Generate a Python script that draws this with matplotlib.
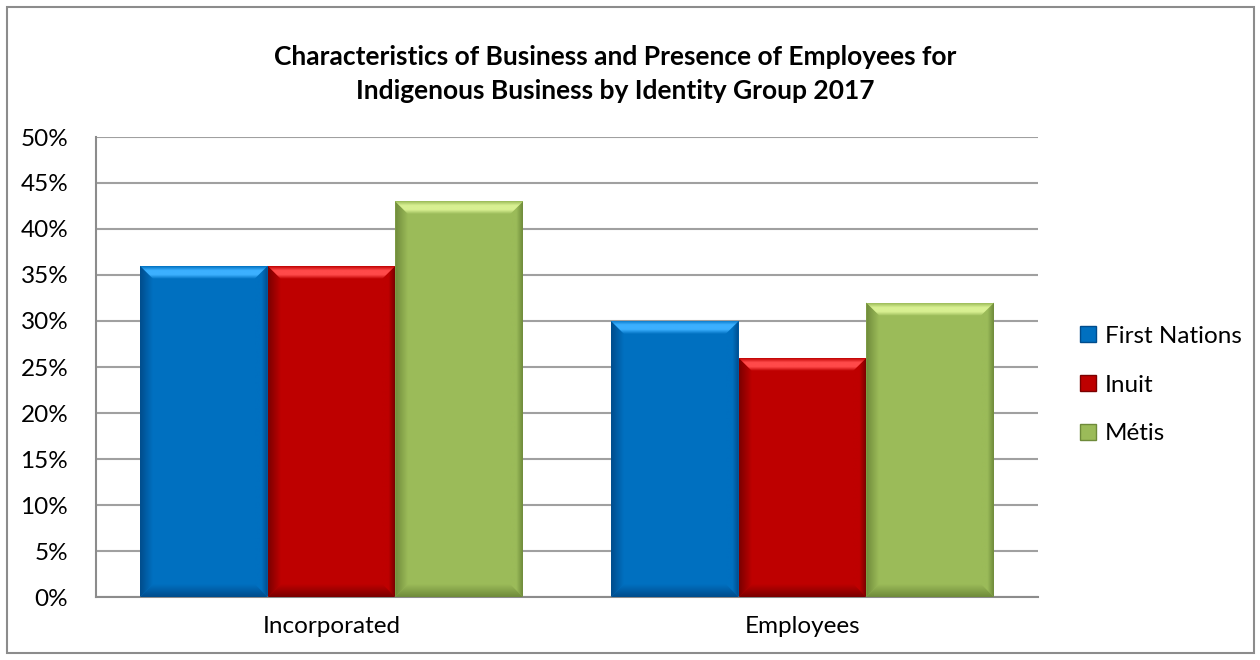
import matplotlib
matplotlib.use("Agg")
import matplotlib.pyplot as plt
import numpy as np
from matplotlib.patches import Polygon, Rectangle
from matplotlib.lines import Line2D
from matplotlib.ticker import MultipleLocator, FuncFormatter

# data
categories = ["Incorporated", "Employees"]
groups = ["First Nations", "Inuit", "Métis"]
first_nations = [36, 30]
inuit = [36, 26]
metis = [43, 32]

# colours: base, dark edge, highlight
base_cols = ["#0070C0", "#BE0000", "#9BBB59"]
dark_cols = ["#004C8C", "#7A0000", "#6E8A3A"]
light_cols = ["#3CB0FF", "#FF4A4A", "#D8F092"]

plt.rcParams["font.family"] = ["Lato", "DejaVu Sans"]

fig = plt.figure(figsize=(12.6, 6.6), dpi=100)
ax = fig.add_axes([96/1260, 1-597/660, 942/1260, 460/660])

# outer chart border
fig.patches.append(Rectangle((7/1260, 7/660), 1247/1260, 646/660, transform=fig.transFigure,
                             fill=False, edgecolor="#8C8C8C", linewidth=1.5))

ax.set_xlim(-0.5, 1.5)
ax.set_ylim(0, 50)

def grad_fill(ax, verts, stops, vertical):
    # fill polygon with a linear gradient through the given colours
    poly = Polygon(verts, closed=True, facecolor="none", edgecolor="none")
    ax.add_patch(poly)
    xs = [v[0] for v in verts]
    ys = [v[1] for v in verts]
    rgb = np.array([matplotlib.colors.to_rgb(c) for c in stops])
    t = np.linspace(0, 1, 100)
    pos = np.linspace(0, 1, len(stops))
    arr = np.stack([np.interp(t, pos, rgb[:, k]) for k in range(3)], axis=-1)
    if vertical:
        arr = arr[:, None, :]
    else:
        arr = arr[None, :, :]
    im = ax.imshow(arr, extent=[min(xs), max(xs), min(ys), max(ys)], origin="lower",
                   aspect="auto", interpolation="bilinear", zorder=3)
    im.set_clip_path(poly)

width = 0.271
x = np.arange(len(categories))
series = [first_nations, inuit, metis]
bev_px = 13
dx = bev_px / 471
dy = bev_px * 50 / 460

for i, vals in enumerate(series):
    pos = x + (i - 1) * width
    bars = ax.bar(pos, vals, width, color=base_cols[i], zorder=2, linewidth=0)
    for b in bars:
        x0 = b.get_x()
        x1 = x0 + b.get_width()
        y0 = 0
        y1 = b.get_height()
        # left bevel
        grad_fill(ax, [(x0, y0), (x0, y1), (x0+dx, y1-dy), (x0+dx, y0+dy)],
                  [dark_cols[i], base_cols[i]], vertical=False)
        # right bevel
        grad_fill(ax, [(x1, y0), (x1, y1), (x1-dx, y1-dy), (x1-dx, y0+dy)],
                  [base_cols[i], base_cols[i], dark_cols[i]], vertical=False)
        # bottom bevel
        grad_fill(ax, [(x0, y0), (x1, y0), (x1-dx, y0+dy), (x0+dx, y0+dy)],
                  [dark_cols[i], base_cols[i]], vertical=True)
        # top bevel
        grad_fill(ax, [(x0, y1), (x1, y1), (x1-dx, y1-dy), (x0+dx, y1-dy)],
                  [base_cols[i], light_cols[i], light_cols[i], base_cols[i]], vertical=True)

ax.set_xlim(-0.5, 1.5)
ax.set_ylim(0, 50)

ax.yaxis.set_major_locator(MultipleLocator(5))
ax.yaxis.set_major_formatter(FuncFormatter(lambda v, p: "%d%%" % v))
ax.grid(axis="y", color="#A0A0A0", linewidth=1.5, zorder=0)
ax.set_axisbelow(True)
ax.set_xticks(x)
ax.set_xticklabels(categories)
ax.tick_params(axis="y", length=0, pad=20, labelsize=17.5)
ax.tick_params(axis="x", length=0, pad=14, labelsize=17.5)
for s in ["top", "right"]:
    ax.spines[s].set_visible(False)
for s in ["left", "bottom"]:
    ax.spines[s].set_color("#8C8C8C")
    ax.spines[s].set_linewidth(1.5)

fig.text(615/1260, 1-57/660, "Characteristics of Business and Presence of Employees for",
         ha="center", va="center", fontsize=19, fontweight="bold")
fig.text(615/1260, 1-91/660, "Indigenous Business by Identity Group 2017",
         ha="center", va="center", fontsize=19, fontweight="bold")

handles = [Line2D([], [], linestyle="none", marker="s", markersize=11,
                  markerfacecolor=base_cols[i], markeredgecolor=dark_cols[i], markeredgewidth=1)
           for i in range(3)]
fig.legend(handles, groups, loc="center left", bbox_to_anchor=(1066/1260, 1-385/660),
           frameon=False, fontsize=17.5, handlelength=0.8, handletextpad=0.3, labelspacing=1.15,
           borderpad=0)

fig.savefig("out.png", dpi=100)
